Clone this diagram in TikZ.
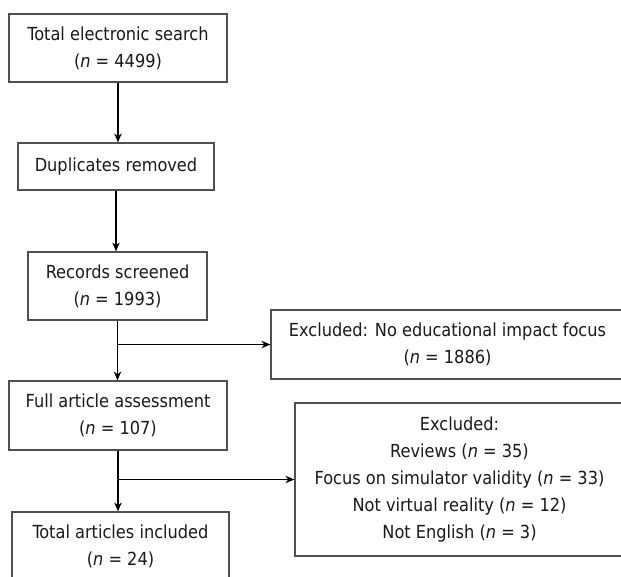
\documentclass[tikz,border=0pt]{standalone}
\usepackage{fontspec}
\setmainfont{DejaVu Sans Condensed}
\usetikzlibrary{arrows.meta}
\definecolor{boxgray}{HTML}{505050}
\definecolor{textcol}{HTML}{1A1A1A}
\begin{document}
\begin{tikzpicture}[x=1pt,y=-1pt,
  box/.style={draw=boxgray, line width=1.2pt, align=center, inner sep=0pt,
    font=\fontsize{18}{27}\selectfont, text=textcol},
  link/.style={draw=black, line width=1.1pt, -{Stealth[length=9pt,width=7.5pt]}}]
\useasboundingbox (0,0) rectangle (621,576);
\clip (0,0) rectangle (621,576);
\fill[white] (0,0) rectangle (621,576);

% main column
\node[box, minimum width=218pt, minimum height=68pt] (b1) at (118,48)
  {Total electronic search\\(\textit{n} = 4499)};
\node[box, minimum width=196pt, minimum height=47pt] (b2) at (116,166.5)
  {Duplicates removed};
\node[box, minimum width=179pt, minimum height=68pt] (b3) at (117.5,286)
  {Records screened\\(\textit{n} = 1993)};
\node[box, minimum width=218pt, minimum height=69pt] (b4) at (118,415.5)
  {Full article assessment\\(\textit{n} = 107)};
\node[box, minimum width=217pt, minimum height=69pt] (b6) at (120.5,546.5)
  {Total articles included\\(\textit{n} = 24)};

% exclusion boxes
\node[box, minimum width=353pt, minimum height=69pt] (b5) at (447.5,344.5)
  {Excluded: No educational impact focus\\(\textit{n} = 1886)};
\node[box, minimum width=329pt, minimum height=153pt] (b7) at (459.5,479.5)
  {Excluded:\\Reviews (\textit{n} = 35)\\Focus on simulator validity (\textit{n} = 33)\\Not virtual reality (\textit{n} = 12)\\Not English (\textit{n} = 3)};

% connectors
\draw[link] (b1.south) -- (b1.south |- b2.north);
\draw[link] (b2.south) -- (b2.south |- b3.north);
\draw[link] (b3.south) -- (b3.south |- b4.north);
\draw[link] (b3.south |- b5.west) -- (b5.west);
\draw[link] (b4.south) -- (b4.south |- b6.north);
\draw[link] (b4.south |- b7.west) -- (b7.west);
\end{tikzpicture}
\end{document}
